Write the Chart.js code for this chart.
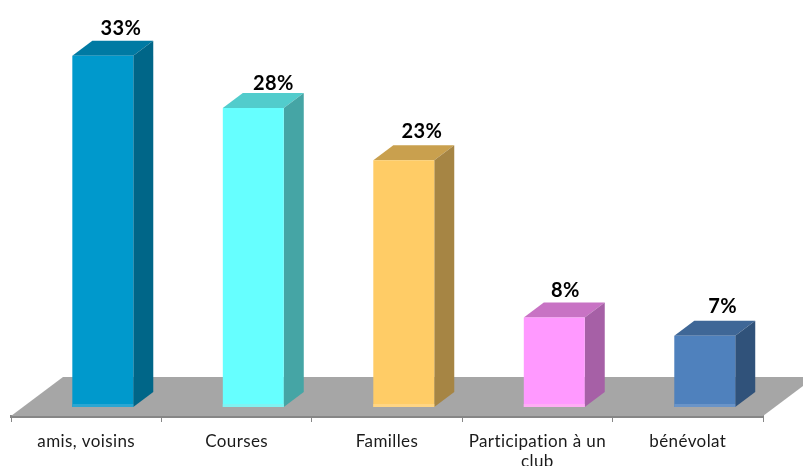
<!DOCTYPE html>
<html>
<head>
<meta charset="utf-8">
<title>Chart</title>
<script src="https://cdn.jsdelivr.net/npm/chart.js@4/dist/chart.umd.min.js"></script>
<style>
  html, body { margin: 0; padding: 0; background: #fff; overflow: hidden; }
  canvas { display: block; }
</style>
</head>
<body>
<canvas id="myChart" width="803" height="466"></canvas>
<script>
const categories = ["amis, voisins", "Courses", "Familles", ["Participation à un", "club"], "bénévolat"];
const values = [33, 28.1, 23.2, 8.4, 6.7];
const valueLabels = ["33%", "28%", "23%", "8%", "7%"];
const frontColors = ["#0099cc", "#66ffff", "#ffcc66", "#ff99ff", "#4f81bd"];
const topColors = ["#007aa3", "#52cccc", "#c9a04e", "#c873c4", "#3f6797"];
const sideColors = ["#006688", "#45a5a5", "#a68544", "#a660a6", "#30527a"];
const baseColors = ["#2ba6d2", "#80f2f2", "#ffd583", "#ffadf5", "#6a94c8"];

const barDepthX = 20;
const barDepthY = 15;
const floorDepthX = 52;
const floorDepthY = 39;

const poly = (ctx, points, color) => {
  ctx.fillStyle = color;
  ctx.beginPath();
  points.forEach((p, i) => (i ? ctx.lineTo(p[0], p[1]) : ctx.moveTo(p[0], p[1])));
  ctx.closePath();
  ctx.fill();
};

// value labels do not sit at the same distance from every bar in the original
const labelShift = [[18, -27], [20, -24], [18, -29], [11, -27], [18, -29]];

const depth3d = {
  id: "depth3d",
  beforeDraw(chart) {
    chart.ctx.letterSpacing = "0.4px";
  },
  beforeDatasetsDraw(chart) {
    const ctx = chart.ctx;
    const area = chart.chartArea;
    ctx.save();
    // floor
    poly(ctx, [
      [area.left, area.bottom],
      [area.left + floorDepthX, area.bottom - floorDepthY],
      [area.right + floorDepthX, area.bottom - floorDepthY],
      [area.right, area.bottom],
    ], "#a6a6a6");
    // top and side of each bar, the front is the bar itself
    chart.getDatasetMeta(0).data.forEach((bar, i) => {
      const left = bar.x - bar.width / 2;
      const right = bar.x + bar.width / 2;
      poly(ctx, [
        [left, bar.y],
        [left + barDepthX, bar.y - barDepthY],
        [right + barDepthX, bar.y - barDepthY],
        [right, bar.y],
      ], topColors[i]);
      poly(ctx, [
        [right, bar.y],
        [right + barDepthX, bar.y - barDepthY],
        [right + barDepthX, bar.base - barDepthY],
        [right, bar.base],
      ], sideColors[i]);
    });
    ctx.restore();
  },
  afterDatasetsDraw(chart) {
    const ctx = chart.ctx;
    ctx.save();
    chart.getDatasetMeta(0).data.forEach((bar, i) => {
      const left = bar.x - bar.width / 2;
      ctx.fillStyle = baseColors[i];
      ctx.fillRect(left, bar.base - 3, bar.width, 3);
      ctx.fillStyle = "#000";
      ctx.font = "bold 20px Lato";
      ctx.textAlign = "center";
      ctx.textBaseline = "middle";
      ctx.fillText(valueLabels[i], bar.x + labelShift[i][0], bar.y + labelShift[i][1]);
    });
    ctx.restore();
  },
};

new Chart(document.getElementById("myChart"), {
  type: "bar",
  data: {
    labels: categories,
    datasets: [
      {
        data: categories.map((c, i) => ({ x: i, y: values[i] })),
        xAxisID: "xBars",
        backgroundColor: frontColors,
        borderWidth: 0,
        categoryPercentage: 1,
        barPercentage: 0.405,
      },
    ],
  },
  plugins: [depth3d],
  options: {
    responsive: false,
    animation: false,
    layout: { padding: { left: 11, right: 40, top: 10, bottom: 0 } },
    plugins: {
      legend: { display: false },
      tooltip: { enabled: false },
    },
    scales: {
      x: {
        type: "category",
        offset: true,
        afterFit: (scale) => {
          scale.height = 50;
        },
        border: { color: "#868686", width: 3 },
        grid: {
          offset: true,
          drawOnChartArea: false,
          color: "#868686",
          tickLength: 6,
        },
        ticks: {
          autoSkip: false,
          maxRotation: 0,
          color: "#1a1a1a",
          padding: 9,
          font: { family: "Lato", size: 17 },
        },
      },
      xBars: {
        type: "linear",
        axis: "x",
        display: false,
        offset: false,
        min: -0.61,
        max: 4.387,
        ticks: { stepSize: 1, includeBounds: false },
      },
      y: {
        display: false,
        min: -0.846,
        max: 37.31,
      },
    },
  },
});
</script>
</body>
</html>
